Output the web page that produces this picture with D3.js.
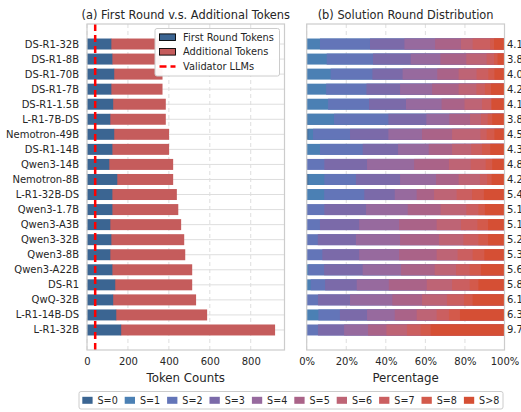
<!DOCTYPE html>
<html lang="en">
<head>
<meta charset="UTF-8">
<title>Tokens and solution rounds</title>
<script src="https://cdnjs.cloudflare.com/ajax/libs/d3/7.8.5/d3.min.js"></script>
<style>
  body { margin: 0; background: #fff; }
  text { font-family: "DejaVu Sans", sans-serif; fill: #262626; }
</style>
</head>
<body>
<script>
    var models = ["DS-R1-32B", "DS-R1-8B", "DS-R1-70B", "DS-R1-7B", "DS-R1-1.5B", "L-R1-7B-DS",
        "Nemotron-49B", "DS-R1-14B", "Qwen3-14B", "Nemotron-8B", "L-R1-32B-DS", "Qwen3-1.7B",
        "Qwen3-A3B", "Qwen3-32B", "Qwen3-8B", "Qwen3-A22B", "DS-R1", "QwQ-32B", "L-R1-14B-DS", "L-R1-32B"];

    // token counts (first round / total)
    var firstRound = [119, 124, 133, 119, 128, 114, 133, 124, 109, 148, 124, 124, 114, 119, 114, 124, 138, 128, 143, 167];
    var totalTokens = [352, 360, 369, 369, 385, 385, 401, 401, 421, 421, 439, 446, 460, 475, 480, 514, 514, 533, 587, 919];
    var validatorTokens = 40;

    // share of problems (%) solved at round S=0..8 and S>8
    var rounds = ["S=0", "S=1", "S=2", "S=3", "S=4", "S=5", "S=6", "S=7", "S=8", "S>8"];
    var roundPct = [
        [0, 6.7, 25.3, 17.4, 15.5, 13.1, 5.9, 8.8, 2.0, 5.3],
        [0, 10.1, 23.4, 19.1, 15.0, 13.1, 10.3, 3.7, 1.8, 3.5],
        [0, 12.1, 21.1, 15.3, 17.5, 10.8, 9.1, 5.9, 3.1, 5.1],
        [0, 9.8, 20.4, 17.0, 16.2, 13.4, 9.0, 4.3, 3.1, 6.8],
        [0, 10.8, 20.7, 18.7, 18.0, 11.6, 8.8, 4.6, 0.3, 6.5],
        [0.3, 13.5, 27.5, 19.2, 11.6, 10.5, 5.5, 3.4, 2.3, 6.2],
        [0.8, 2.4, 18.7, 19.4, 17.0, 15.2, 14.3, 3.2, 3.9, 5.1],
        [0, 6.7, 21.6, 17.9, 15.5, 11.8, 9.7, 5.4, 4.2, 7.2],
        [0, 0, 8.9, 21.6, 23.8, 17.6, 11.0, 7.6, 3.3, 6.2],
        [0.8, 8.1, 16.0, 22.3, 18.2, 11.4, 10.8, 3.6, 2.3, 6.5],
        [0, 8.8, 20.3, 15.4, 11.1, 8.8, 11.4, 7.8, 6.0, 10.4],
        [0, 0, 8.9, 21.1, 21.1, 16.6, 13.0, 6.1, 3.3, 9.9],
        [0, 0, 6.7, 19.8, 20.2, 19.0, 12.3, 8.3, 5.4, 8.3],
        [0, 0, 5.6, 19.3, 22.3, 19.7, 12.3, 7.6, 4.9, 8.3],
        [0, 0, 7.9, 18.6, 20.2, 19.0, 10.6, 7.6, 5.9, 10.2],
        [0, 0.8, 8.0, 19.5, 19.4, 17.0, 10.8, 6.9, 5.7, 11.9],
        [0, 2.0, 7.3, 16.0, 16.2, 19.2, 12.8, 8.9, 4.4, 13.2],
        [0, 0, 5.7, 16.2, 21.4, 15.0, 12.6, 8.6, 4.4, 16.1],
        [0, 5.9, 10.9, 13.7, 14.0, 11.1, 10.1, 6.2, 5.6, 22.5],
        [0, 0, 5.7, 13.2, 12.1, 9.3, 10.4, 6.9, 5.1, 37.3]
    ];
    var meanRounds = ["4.1", "3.8", "4.0", "4.2", "4.1", "3.8", "4.5", "4.3", "4.8", "4.2",
        "5.4", "5.1", "5.1", "5.2", "5.3", "5.6", "5.8", "6.1", "6.3", "9.7"];

    var tokenTicks = [0, 200, 400, 600, 800];
    var pctTicks = [0, 0.2, 0.4, 0.6, 0.8, 1];

    var roundColors = ["#3b6592", "#4b80b4", "#6375b8", "#7b6aa9", "#976a9e",
        "#aa6388", "#be6475", "#cb5f60", "#d35a4b", "#d54f34"];
    var blue = "#3b6592", red = "#c55c5c";

    var width = 521, height = 412,
        plotTop = 24, plotBottom = 350,
        gridColor = "#dedede", frameColor = "#cccccc";

    var svg = d3.select("body").append("svg")
        .attr("width", width)
        .attr("height", height);

    var y = d3.scaleLinear().domain([-1.33, 20.33]).range([plotTop, plotBottom]);
    var barH = (y(1) - y(0)) * 0.73;

    var xTok = d3.scaleLinear().domain([0, 965]).range([87, 284.5]);
    var xPct = d3.scaleLinear().domain([0, 1]).range([306.7, 504.5]);

    function panelFrame(x, ticks, fmt, title, label) {
        var g = svg.append("g");
        var x0 = x.range()[0], x1 = x.range()[1];
        g.selectAll("line.vgrid").data(ticks).enter().append("line")
            .attr("x1", function (d) { return x(d); }).attr("x2", function (d) { return x(d); })
            .attr("y1", plotTop).attr("y2", plotBottom)
            .attr("stroke", gridColor).attr("stroke-dasharray", "4,3");
        g.selectAll("line.hgrid").data(models).enter().append("line")
            .attr("x1", x0).attr("x2", x1)
            .attr("y1", function (d, i) { return y(i); }).attr("y2", function (d, i) { return y(i); })
            .attr("stroke", gridColor);

        var axis = d3.axisBottom(x).tickValues(ticks).tickSize(0).tickPadding(8).tickFormat(fmt);
        var ax = svg.append("g").attr("transform", "translate(0," + plotBottom + ")").call(axis);
        ax.select(".domain").remove();
        ax.selectAll("text").style("font-size", "10px").attr("fill", "#262626");

        svg.append("text").attr("x", (x0 + x1) / 2).attr("y", 19)
            .attr("text-anchor", "middle").style("font-size", "11.4px").text(title);
        svg.append("text").attr("x", (x0 + x1) / 2).attr("y", 382)
            .attr("text-anchor", "middle").style("font-size", "11.8px").text(label);
        return g;
    }

    function drawBorder(x) {
        var x0 = x.range()[0], x1 = x.range()[1];
        svg.append("rect").attr("x", x0).attr("y", plotTop)
            .attr("width", x1 - x0).attr("height", plotBottom - plotTop)
            .attr("fill", "none").attr("stroke", frameColor).attr("stroke-width", 1.2);
    }

    // (a) token counts
    panelFrame(xTok, tokenTicks, d3.format("d"), "(a) First Round v.s. Additional Tokens", "Token Counts");

    var rowsA = svg.append("g");
    rowsA.selectAll("rect.add").data(models).enter().append("rect")
        .attr("x", function (d, i) { return xTok(firstRound[i]) - 0.5; })
        .attr("width", function (d, i) { return xTok(totalTokens[i]) - xTok(firstRound[i]) + 0.5; })
        .attr("y", function (d, i) { return y(i) - barH / 2; })
        .attr("height", barH).attr("fill", red);
    rowsA.selectAll("rect.first").data(models).enter().append("rect")
        .attr("x", xTok(0))
        .attr("width", function (d, i) { return xTok(firstRound[i]) - xTok(0); })
        .attr("y", function (d, i) { return y(i) - barH / 2; })
        .attr("height", barH).attr("fill", blue);

    rowsA.selectAll("text.model").data(models).enter().append("text")
        .attr("x", 79).attr("y", function (d, i) { return y(i); })
        .attr("dy", "0.35em").attr("text-anchor", "end")
        .style("font-size", "10px").text(function (d) { return d; });

    svg.append("line")
        .attr("x1", xTok(validatorTokens)).attr("x2", xTok(validatorTokens))
        .attr("y1", plotTop).attr("y2", plotBottom)
        .attr("stroke", "#ff0000").attr("stroke-width", 2.5).attr("stroke-dasharray", "7,4");

    drawBorder(xTok);

    // legend (a)
    var lg = svg.append("g").attr("transform", "translate(155,28.5)");
    lg.append("rect").attr("width", 124.5).attr("height", 47.5).attr("rx", 2)
        .attr("fill", "#fff").attr("fill-opacity", 0.95).attr("stroke", frameColor);
    var legItems = [
        {name: "First Round Tokens", color: blue},
        {name: "Additional Tokens", color: red},
        {name: "Validator LLMs", color: null}
    ];
    legItems.forEach(function (d, i) {
        var cy = 8.7 + i * 14.6;
        if (d.color) {
            lg.append("rect").attr("x", 4.5).attr("y", cy - 3.3).attr("width", 16).attr("height", 6.6)
                .attr("fill", d.color).attr("stroke", "#000").attr("stroke-width", 0.9);
        } else {
            lg.append("line").attr("x1", 4.5).attr("x2", 20.5).attr("y1", cy).attr("y2", cy)
                .attr("stroke", "#ff0000").attr("stroke-width", 2.5).attr("stroke-dasharray", "7,4");
        }
        lg.append("text").attr("x", 28).attr("y", cy).attr("dy", "0.35em")
            .style("font-size", "9.8px").text(d.name);
    });

    // (b) round distribution
    panelFrame(xPct, pctTicks, d3.format(".0%"), "(b) Solution Round Distribution", "Percentage");

    var stacked = roundPct.map(function (row) {
        var acc = 0;
        return row.map(function (v, k) {
            var seg = {k: k, x0: acc / 100, x1: (acc + v) / 100};
            acc += v;
            return seg;
        });
    });
    // each segment is painted from its start to 100%, the next one covers the rest (no seams)
    stacked.forEach(function (row, i) {
        svg.append("g").selectAll("rect").data(row.filter(function (d) { return d.x1 > d.x0 || d.k === 9; }))
            .enter().append("rect")
            .attr("x", function (d) { return xPct(d.x0); })
            .attr("width", function (d) { return xPct(1) - xPct(d.x0); })
            .attr("y", y(i) - barH / 2).attr("height", barH)
            .attr("fill", function (d) { return roundColors[d.k]; });
    });

    drawBorder(xPct);

    svg.append("g").selectAll("text").data(meanRounds).enter().append("text")
        .attr("x", 507).attr("y", function (d, i) { return y(i); })
        .attr("dy", "0.35em").style("font-size", "10px")
        .text(function (d) { return d; });

    // bottom legend
    var bl = svg.append("g").attr("transform", "translate(79,391.5)");
    bl.append("rect").attr("width", 424).attr("height", 17.5).attr("rx", 2)
        .attr("fill", "#fff").attr("stroke", frameColor);
    rounds.forEach(function (r, k) {
        var gx = 3.3 + k * 42.4;
        bl.append("rect").attr("x", gx).attr("y", 5.3).attr("width", 10.3).attr("height", 7)
            .attr("fill", roundColors[k]);
        bl.append("text").attr("x", gx + 15.2).attr("y", 8.8).attr("dy", "0.35em")
            .style("font-size", "9.6px").text(r);
    });
</script>
</body>
</html>
